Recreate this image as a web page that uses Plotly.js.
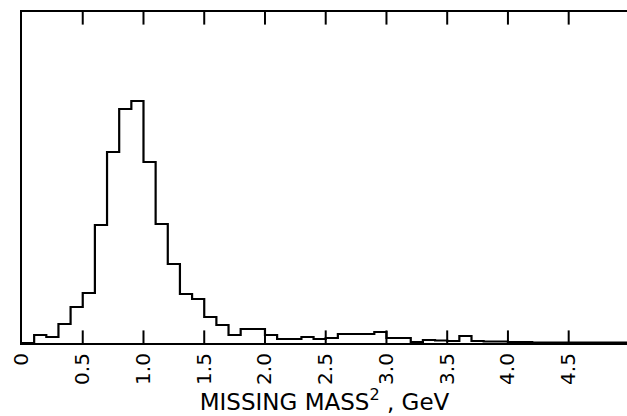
<!DOCTYPE html>
<html>
<head>
<meta charset="utf-8">
<script src="https://cdn.plot.ly/plotly-3.0.1.min.js"></script>
<style>
  html, body { margin: 0; padding: 0; background: #fff; overflow: hidden; }
  #chart { width: 627px; height: 416px; }
</style>
</head>
<body>
<div id="chart"></div>
<script>
// Bin left edges (MISSING MASS^2, GeV), bin width 0.1
const binLeft = [0.0, 0.1, 0.2, 0.3, 0.4, 0.5, 0.6, 0.7, 0.8, 0.9,
                 1.0, 1.1, 1.2, 1.3, 1.4, 1.5, 1.6, 1.7, 1.8, 1.9,
                 2.0, 2.1, 2.2, 2.3, 2.4, 2.5, 2.6, 2.7, 2.8, 2.9,
                 3.0, 3.1, 3.2, 3.3, 3.4, 3.5, 3.6, 3.7, 3.8, 3.9,
                 4.0, 4.1, 4.2, 4.3, 4.4, 4.5, 4.6, 4.7, 4.8, 4.9];
const binRightEnd = 5.0;
// Events per bin (arbitrary units)
const counts = [0, 8, 6, 19, 36, 50, 118, 191, 234, 242,
                181, 119, 79, 49, 44, 26, 18, 8, 14, 14,
                8, 4, 4, 6, 4, 5, 9, 9, 9, 11,
                5, 5, 1, 3, 2.5, 2, 7, 2, 1.5, 1.5,
                1, 1, 0.5, 0.5, 0.3, 0.3, 0.3, 0.3, 0.3, 0.3];
const tickVals = [0, 0.5, 1.0, 1.5, 2.0, 2.5, 3.0, 3.5, 4.0, 4.5];
const tickText = ["0", "0.5", "1.0", "1.5", "2.0", "2.5", "3.0", "3.5", "4.0", "4.5"];
const markVals = [0.5, 1.0, 1.5, 2.0, 2.5, 3.0, 3.5, 4.0, 4.5];

const X_RANGE = [0, 4.98];
const Y_RANGE = [0, 331];

const xs = binLeft.concat([binRightEnd]);
const ys = counts.concat([counts[counts.length - 1]]);

const histo = {
  x: xs, y: ys, type: 'scatter', mode: 'lines',
  line: { shape: 'hv', color: '#000', width: 2.2 },
  hoverinfo: 'skip', showlegend: false
};

// Inside tick marks on the bottom and top frame edges: vertical line markers
// centred on each edge; the half outside the plot area is clipped away.
const tickMarks = {
  x: markVals.concat(markVals),
  y: markVals.map(() => Y_RANGE[0]).concat(markVals.map(() => Y_RANGE[1])),
  type: 'scatter',
  mode: 'markers',
  cliponaxis: true,
  marker: { symbol: 'line-ns-open', size: 18, color: '#000', line: { color: '#000', width: 2 } },
  hoverinfo: 'skip',
  showlegend: false
};

const layout = {
  width: 627,
  height: 416,
  margin: { l: 22, r: 0, t: 12, b: 73 },
  paper_bgcolor: '#fff',
  plot_bgcolor: '#fff',
  showlegend: false,
  xaxis: {
    range: X_RANGE,
    tickmode: 'array',
    tickvals: tickVals,
    ticktext: tickText,
    ticks: '',
    tickangle: -90,
    tickfont: { family: 'DejaVu Sans', size: 20, color: '#000' },
    showline: true,
    linecolor: '#000',
    linewidth: 2.2,
    mirror: true,
    showgrid: false,
    zeroline: false,
    title: {
      text: 'MISSING MASS<sup>2</sup> , GeV',
      font: { family: 'DejaVu Sans', size: 23, color: '#000' },
      standoff: 8
    }
  },
  yaxis: {
    range: Y_RANGE,
    showticklabels: false,
    ticks: '',
    showline: true,
    linecolor: '#000',
    linewidth: 1.8,
    showgrid: false,
    zeroline: false
  }
};

Plotly.newPlot('chart', [histo, tickMarks], layout, { displayModeBar: false });
</script>
</body>
</html>
